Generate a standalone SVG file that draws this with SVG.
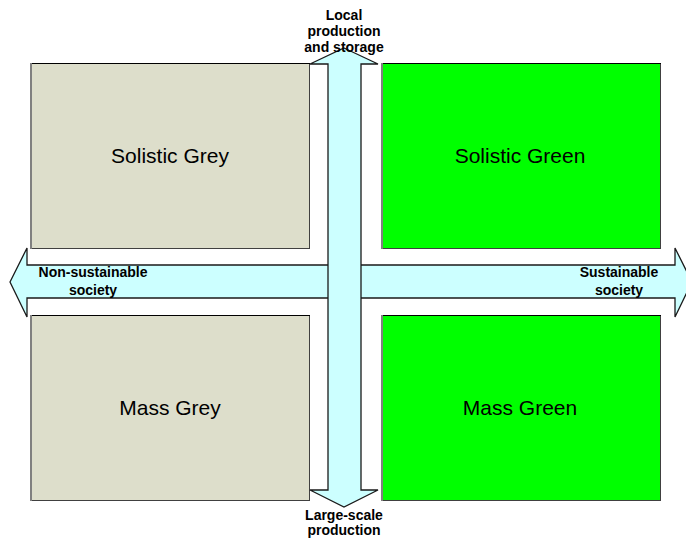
<svg xmlns="http://www.w3.org/2000/svg" width="686" height="538" viewBox="0 0 686 538">
<style>
.box{stroke:#404040;stroke-width:1}
.grey{fill:#DDDECB}
.green{fill:#00FF00}
.top{stroke:#000;stroke-width:1.2}
.left{stroke:#808080;stroke-width:2}
.arrow{fill:#CCFFFF;stroke:#1a1a1a;stroke-width:1.3}
.big{font-family:"Liberation Sans",Arial,sans-serif;font-size:21px;fill:#000;text-anchor:middle}
.lbl{font-family:"Liberation Sans",Arial,sans-serif;font-size:14px;font-weight:bold;fill:#000;text-anchor:middle}
</style>
<rect width="686" height="538" fill="#fff"/>
<g id="solistic-grey">
<rect class="box grey" x="30.5" y="63.5" width="279" height="185"/>
<line class="top" x1="30" y1="63.5" x2="310" y2="63.5"/>
<line class="left" x1="31" y1="63" x2="31" y2="249"/>
<text class="big" x="170" y="163">Solistic Grey</text>
</g>
<g id="solistic-green">
<rect class="box green" x="381.5" y="63.5" width="279" height="185"/>
<line class="top" x1="381" y1="63.5" x2="661" y2="63.5"/>
<line class="left" x1="382" y1="63" x2="382" y2="249"/>
<text class="big" x="520" y="163">Solistic Green</text>
</g>
<g id="mass-grey">
<rect class="box grey" x="30.5" y="315.5" width="279" height="185"/>
<line class="top" x1="30" y1="315.5" x2="310" y2="315.5"/>
<line class="left" x1="31" y1="315" x2="31" y2="501"/>
<text class="big" x="170" y="415">Mass Grey</text>
</g>
<g id="mass-green">
<rect class="box green" x="381.5" y="315.5" width="279" height="185"/>
<line class="top" x1="381" y1="315.5" x2="661" y2="315.5"/>
<line class="left" x1="382" y1="315" x2="382" y2="501"/>
<text class="big" x="520" y="415">Mass Green</text>
</g>
<g id="connectors">
<g id="society-axis">
<path class="arrow" d="M10,282 L27,248 L27,265 L675,265 L675,248 L692,282 L675,317 L675,298 L27,298 L27,317 Z"/>
</g>
<g id="production-axis">
<path class="arrow" d="M344,48 L378,64 L361,64 L361,490 L378,490 L344,507 L310,490 L328,490 L328,64 L310,64 Z"/>
</g>
</g>
<g id="labels">
<text class="lbl" x="344" y="20">Local</text>
<text class="lbl" x="344" y="36">production</text>
<text class="lbl" x="344" y="52">and storage</text>
<text class="lbl" x="344" y="520">Large-scale</text>
<text class="lbl" x="344" y="535">production</text>
<text class="lbl" x="93" y="277">Non-sustainable</text>
<text class="lbl" x="93" y="295">society</text>
<text class="lbl" x="619" y="277">Sustainable</text>
<text class="lbl" x="619" y="295">society</text>
</g>
</svg>
